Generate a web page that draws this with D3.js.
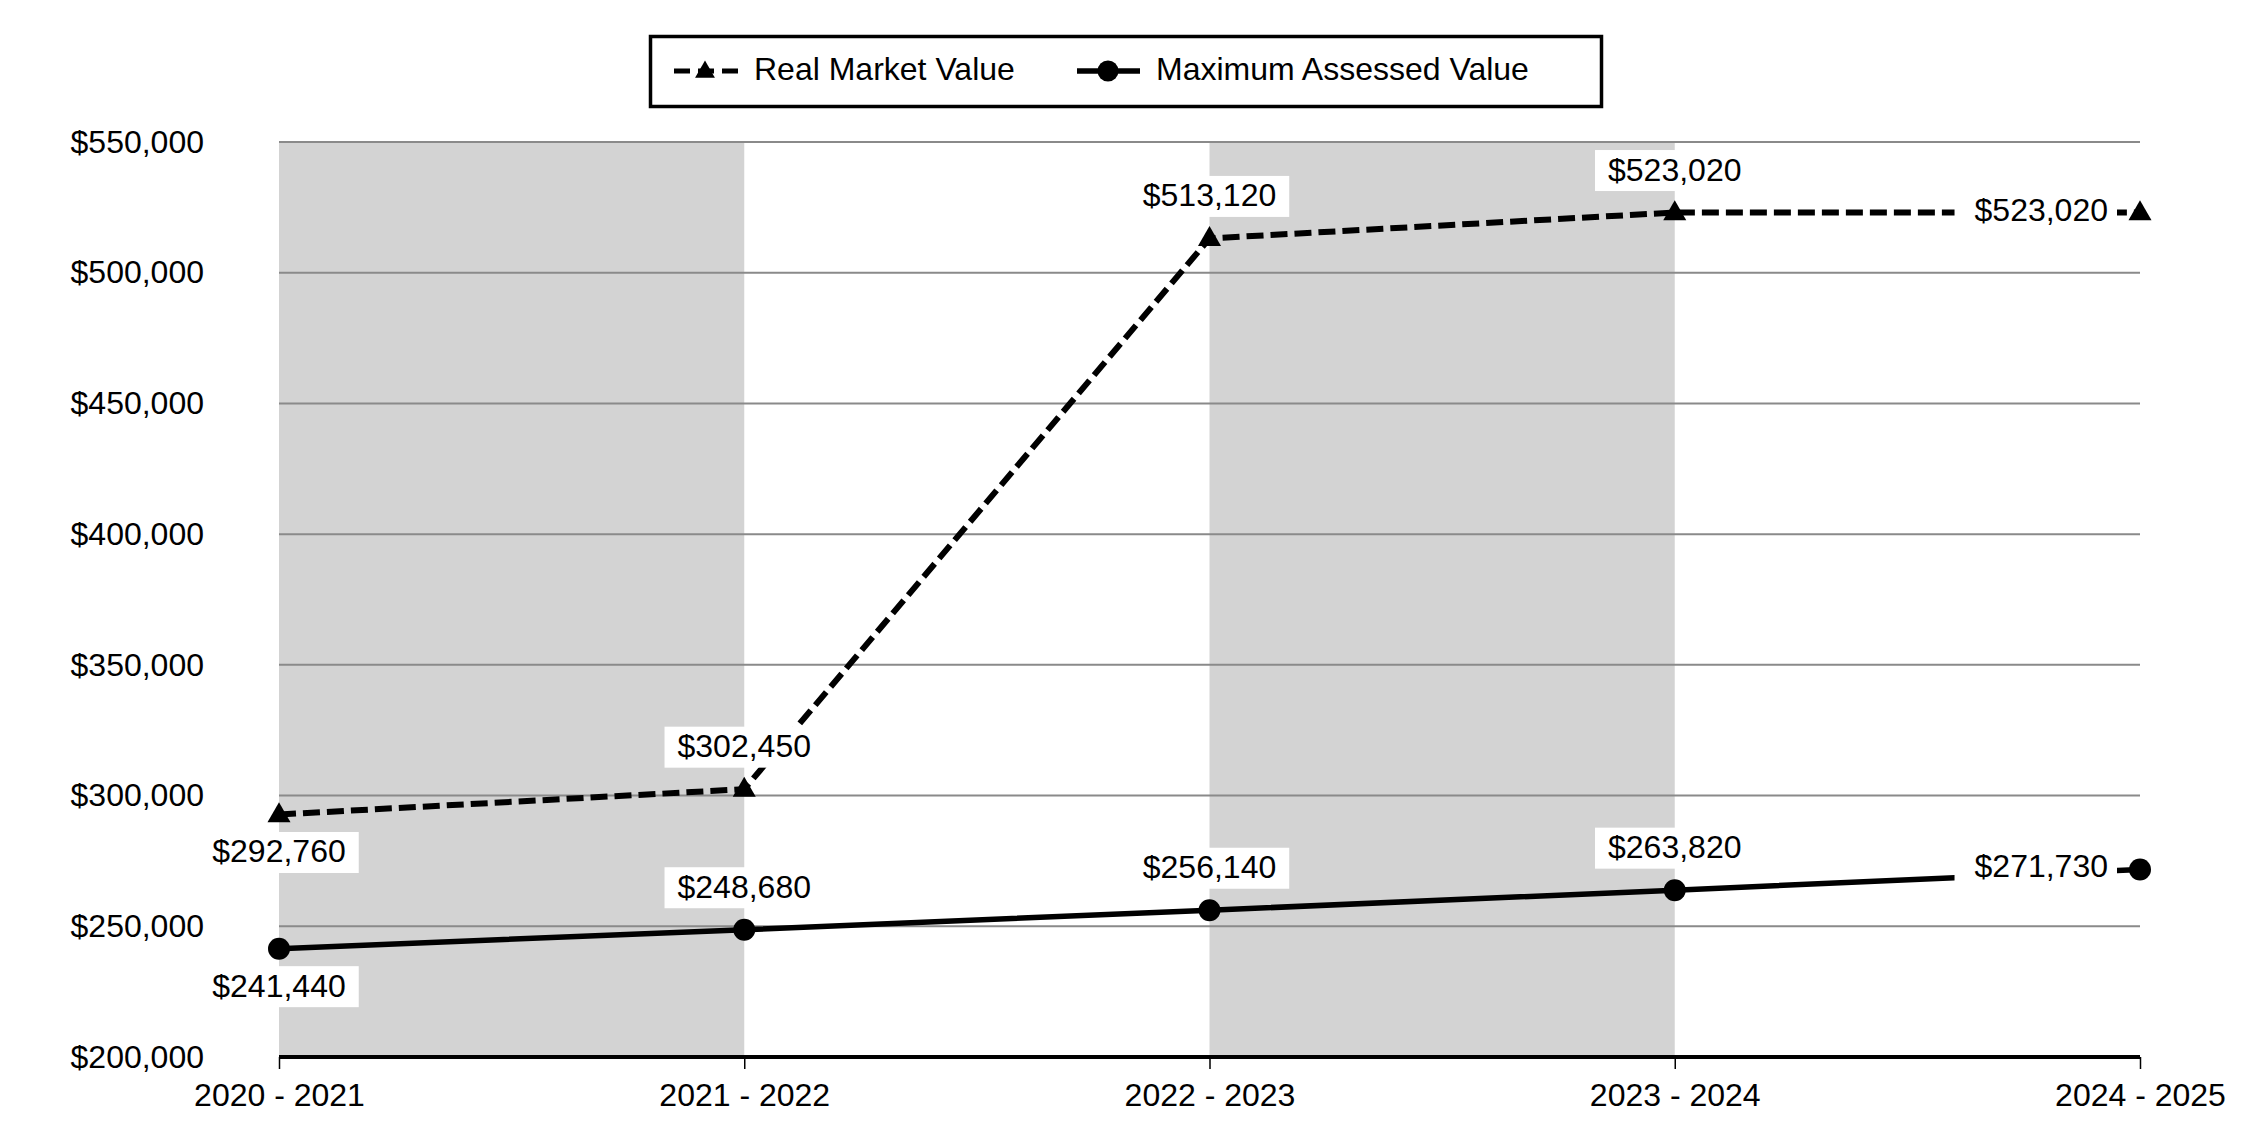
<!DOCTYPE html>
<html>
<head>
<meta charset="utf-8">
<script src="https://cdn.jsdelivr.net/npm/d3@7"></script>
<style>
  body { margin: 0; background: #fff; }
  text { font-family: "Liberation Sans", Arial, sans-serif; fill: #000; }
</style>
</head>
<body>
<div id="chart"></div>
<script>
var years = ["2020 - 2021", "2021 - 2022", "2022 - 2023", "2023 - 2024", "2024 - 2025"];
var realMarket = [292760, 302450, 513120, 523020, 523020];
var maxAssessed = [241440, 248680, 256140, 263820, 271730];
var yTicks = [200000, 250000, 300000, 350000, 400000, 450000, 500000, 550000];
var shadedBands = [["2020 - 2021", "2021 - 2022"], ["2022 - 2023", "2023 - 2024"]];
// where each value label sits relative to its point
var rmvLabelPos = ["below", "above", "above", "above", "left"];
var mavLabelPos = ["below", "above", "above", "above", "left"];

var W = 2250, H = 1140;
var plotLeft = 279, plotRight = 2140, plotTop = 142, plotBottom = 1057;

var svg = d3.select("#chart").append("svg")
  .attr("width", W).attr("height", H)
  .style("display", "block");

svg.append("rect").attr("width", W).attr("height", H).attr("fill", "#fff");

var x = d3.scalePoint().domain(years).range([plotLeft, plotRight]);
var y = d3.scaleLinear().domain([200000, 550000]).range([plotBottom, plotTop]);
var money = function (d) { return "$" + d3.format(",")(d); };

// grey bands
svg.selectAll("rect.band")
  .data(shadedBands)
  .enter().append("rect")
  .attr("class", "band")
  .attr("x", function (d) { return x(d[0]); })
  .attr("y", y(550000))
  .attr("width", function (d) { return x(d[1]) - x(d[0]); })
  .attr("height", y(200000) - y(550000))
  .attr("fill", "#d3d3d3");

// gridlines
svg.selectAll("line.grid")
  .data(yTicks.slice(1))
  .enter().append("line")
  .attr("class", "grid")
  .attr("x1", plotLeft).attr("x2", plotRight)
  .attr("y1", function (d) { return y(d); })
  .attr("y2", function (d) { return y(d); })
  .attr("stroke", "#8a8a8a")
  .attr("stroke-width", 2);

// y labels
var yAxis = svg.append("g")
  .attr("transform", "translate(" + plotLeft + ",0)")
  .call(d3.axisLeft(y).tickValues(yTicks).tickFormat(money).tickSize(0).tickPadding(75));
yAxis.select(".domain").remove();
yAxis.selectAll("text").attr("font-size", 32).attr("font-family", "Liberation Sans, Arial, sans-serif");

// x axis
var xAxis = svg.append("g")
  .attr("transform", "translate(0," + plotBottom + ")")
  .call(d3.axisBottom(x).tickSize(12).tickPadding(14));
xAxis.select(".domain").attr("stroke", "#000").attr("stroke-width", 4)
  .attr("d", "M" + plotLeft + ",0H" + plotRight);
xAxis.selectAll(".tick line").attr("stroke", "#000").attr("stroke-width", 1.5);
xAxis.selectAll("text").attr("font-size", 32).attr("font-family", "Liberation Sans, Arial, sans-serif");

var line = d3.line()
  .x(function (d, i) { return x(years[i]); })
  .y(function (d) { return y(d); });

svg.append("path")
  .datum(realMarket)
  .attr("d", line)
  .attr("fill", "none")
  .attr("stroke", "#000")
  .attr("stroke-width", 6)
  .attr("stroke-dasharray", "17,7");

svg.append("path")
  .datum(maxAssessed)
  .attr("d", line)
  .attr("fill", "none")
  .attr("stroke", "#000")
  .attr("stroke-width", 5.5);

var tri = d3.symbol().type(d3.symbolTriangle).size(230);

svg.selectAll("path.tri")
  .data(realMarket)
  .enter().append("path")
  .attr("class", "tri")
  .attr("d", tri)
  .attr("transform", function (d, i) { return "translate(" + x(years[i]) + "," + (y(d) + 1) + ")"; })
  .attr("fill", "#000");

svg.selectAll("circle.dot")
  .data(maxAssessed)
  .enter().append("circle")
  .attr("class", "dot")
  .attr("cx", function (d, i) { return x(years[i]); })
  .attr("cy", function (d) { return y(d); })
  .attr("r", 11)
  .attr("fill", "#000");

function addLabels(values, pos) {
  values.forEach(function (v, i) {
    var px = x(years[i]), py = y(v);
    var g = svg.append("g");
    var t = g.append("text")
      .attr("font-size", 32)
      .attr("dominant-baseline", "central")
      .text(money(v));
    var tw = t.node().getComputedTextLength();
    var tx, ty, anchor = "middle";
    if (pos[i] === "above") { tx = px; ty = py - 43; }
    else if (pos[i] === "below") { tx = px; ty = py + 37; }
    else { tx = px - 32; ty = py - 3; anchor = "end"; }
    t.attr("x", tx).attr("y", ty).attr("text-anchor", anchor);
    var bx = anchor === "end" ? tx - tw - 20 : tx - tw / 2 - 13;
    var bw = anchor === "end" ? tw + 29 : tw + 26;
    g.insert("rect", "text")
      .attr("x", bx).attr("y", ty - 19.5)
      .attr("width", bw).attr("height", 41)
      .attr("fill", "#fff");
  });
}
addLabels(realMarket, rmvLabelPos);
addLabels(maxAssessed, mavLabelPos);

// legend
var lg = svg.append("g");
lg.append("rect")
  .attr("x", 650.5).attr("y", 36.5)
  .attr("width", 951).attr("height", 70)
  .attr("fill", "#fff").attr("stroke", "#000").attr("stroke-width", 3.5);
var ly = 71;
lg.append("line")
  .attr("x1", 674).attr("x2", 738).attr("y1", ly).attr("y2", ly)
  .attr("stroke", "#000").attr("stroke-width", 5)
  .attr("stroke-dasharray", "16,8");
lg.append("path")
  .attr("d", d3.symbol().type(d3.symbolTriangle).size(170))
  .attr("transform", "translate(705," + (ly + 1) + ")")
  .attr("fill", "#000");
lg.append("text").attr("x", 754).attr("y", ly - 2)
  .attr("font-size", 32).attr("dominant-baseline", "central")
  .text("Real Market Value");
lg.append("line")
  .attr("x1", 1077).attr("x2", 1140).attr("y1", ly).attr("y2", ly)
  .attr("stroke", "#000").attr("stroke-width", 5.5);
lg.append("circle").attr("cx", 1108).attr("cy", ly).attr("r", 10.5).attr("fill", "#000");
lg.append("text").attr("x", 1156).attr("y", ly - 2)
  .attr("font-size", 32).attr("dominant-baseline", "central")
  .text("Maximum Assessed Value");
</script>
</body>
</html>
